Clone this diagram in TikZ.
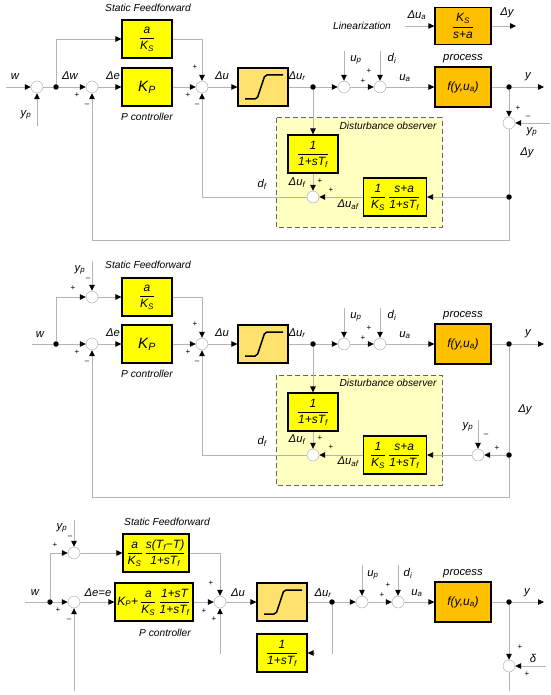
\documentclass[tikz,border=0pt]{standalone}
\usepackage{amsmath}
\usepackage{fontspec}
\setmainfont{Liberation Sans}
\usetikzlibrary{arrows.meta,positioning}
\definecolor{blkyellow}{RGB}{255,255,0}
\definecolor{procorange}{RGB}{255,192,0}
\definecolor{satyellow}{RGB}{255,226,110}
\definecolor{obsfill}{RGB}{255,255,192}
\definecolor{wiregray}{RGB}{180,180,180}
\definecolor{sumgray}{RGB}{165,165,165}
\tikzset{
  >={Triangle[length=6pt,width=5.5pt,color=black]},
  every node/.style={font=\itshape\fontsize{11.3}{13}\selectfont},
  note/.style={font=\itshape\fontsize{10.2}{12}\selectfont},
  wire/.style={draw=wiregray, line width=0.8pt},
  sig/.style={wire, ->},
  sumnode/.style={circle, draw=sumgray, fill=white, minimum size=12pt, inner sep=0pt},
  bullet/.style={circle, fill=black, minimum size=5.5pt, inner sep=0pt},
  blk/.style={draw=black, line width=1.2pt, fill=blkyellow, minimum width=50pt, minimum height=38pt, inner sep=1pt,
    font=\itshape\fontsize{12}{14}\selectfont},
  proc/.style={blk, fill=procorange, minimum width=56pt, minimum height=40pt},
  sat/.style={blk, fill=satyellow},
  sgn/.style={font=\fontsize{8}{9}\selectfont, inner sep=0pt},
  obs/.style={draw=black!60, dash pattern=on 5pt off 3pt, line width=1pt, fill=obsfill},
  big/.style={font=\itshape\fontsize{15}{17}\selectfont},
}
\newcommand{\fr}[2]{$\dfrac{\mbox{#1}}{\mbox{#2}}$}

\begin{document}
\begin{tikzpicture}[x=1pt, y=-1pt]
  \useasboundingbox (0,0) rectangle (550,695);

  % first loop
  \draw[obs] (276,118) rectangle (442,227);
  \node[note, anchor=east] (aobsl) at (440,126) {Disturbance observer};

  \coordinate (aw) at (6,87);
  \node[sumnode] (aS1) at (37,87) {};
  \coordinate (ayp) at (37,126);
  \node[bullet] (aD1) at (56,87) {};
  \node[sumnode] (aS2) at (92,87) {};
  \node[blk] (aFF) at (147,39) {\fr{a}{K\textsubscript{S}}};
  \node[blk, big] (aKP) at (147,87) {K\textsubscript{P}};
  \node[sumnode] (aS3) at (202,87) {};
  \node[sat] (aSat) at (263,87) {};
  \node[bullet] (aD2) at (313,87) {};
  \node[sumnode] (aS4) at (344,87) {};
  \coordinate (aup) at (344,51);
  \node[sumnode] (aS5) at (380,87) {};
  \coordinate (adi) at (380,51);
  \node[proc] (aP) at (463,87) {f(y,u\textsubscript{a})};
  \node[bullet] (aD3) at (509,87) {};
  \coordinate (ay) at (544,87);
  \node[sumnode] (aS6) at (509,123) {};
  \coordinate (aypr) at (550,123);
  \node[bullet] (aD4) at (509,197) {};
  \node[blk, minimum width=63pt] (aObs) at (395,197) {\fr{1}{K\textsubscript{S}}\,\fr{s+a}{1+sT\textsubscript{f}}};
  \node[sumnode] (aS7) at (313,197) {};
  \node[blk] (aF) at (313,154) {\fr{1}{1+sT\textsubscript{f}}};
  \coordinate (aC) at (92,240);
  \node[proc, minimum height=37pt] (aLin) at (463,26) {\fr{K\textsubscript{S}}{s+a}};
  \coordinate (aLi) at (405,26);
  \coordinate (aLo) at (516,26);

  \draw[sig] (aw) -- (aS1);
  \draw[sig] (ayp) -- (aS1);
  \draw[wire] (aS1) -- (aD1);
  \draw[sig] (aD1) -- (aS2);
  \draw[sig] (aD1) |- (aFF);
  \draw[sig] (aS2) -- (aKP);
  \draw[sig] (aKP) -- (aS3);
  \draw[sig] (aFF) -| (aS3);
  \draw[sig] (aS3) -- (aSat);
  \draw[wire] (aSat) -- (aD2);
  \draw[sig] (aD2) -- (aS4);
  \draw[sig] (aup) -- (aS4);
  \draw[sig] (aS4) -- (aS5);
  \draw[sig] (adi) -- (aS5);
  \draw[sig] (aS5) -- (aP);
  \draw[wire] (aP) -- (aD3);
  \draw[sig] (aD3) -- (ay);
  \draw[sig] (aD3) -- (aS6);
  \draw[sig] (aypr) -- (aS6);
  \draw[wire] (aS6) -- (aD4);
  \draw[sig] (aD4) |- (aC) -- (aS2);
  \draw[sig] (aD4) -- (aObs);
  \draw[sig] (aObs) -- (aS7);
  \draw[sig] (aD2) -- (aF);
  \draw[sig] (aF) -- (aS7);
  \draw[sig] (aS7) -| (aS3);
  \draw[sig] (aLi) -- (aLin);
  \draw[sig] (aLin) -- (aLo);

  \node (awl) at (15,77) {w};
  \node (aypl) at (26,115) {y\textsubscript{p}};
  \node (adwl) at (70,76) {Δw};
  \node (adel) at (113,76) {Δe};
  \node[note] (asff) at (148,8) {Static Feedforward};
  \node[note] (apc) at (147,117) {P controller};
  \node (adul) at (222,76) {Δu};
  \node (adurl) at (297,76) {Δu\textsubscript{r}};
  \node (aupl) at (356,60) {u\textsubscript{p}};
  \node (adil) at (392,58) {d\textsubscript{i}};
  \node (aual) at (405,78) {u\textsubscript{a}};
  \node (aprl) at (463,59) {process};
  \node (ayl) at (528,77) {y};
  \node (ayprl) at (532,132) {y\textsubscript{p}};
  \node (adyl) at (527,153) {Δy};
  \node (adfl) at (262,184) {d\textsubscript{f}};
  \node (adufl) at (297,183) {Δu\textsubscript{f}};
  \node (adual) at (348,205) {Δu\textsubscript{af}};
  \node[note] (alinl) at (362,26) {Linearization};
  \node (adual2) at (417,15) {Δu\textsubscript{a}};
  \node (adyl2) at (507,13) {Δy};
  \foreach \p/\s [count=\i] in {(77,95)/+, (87,105)/–, (195,67)/+, (188,95)/+, (197,105)/–,
      (363,81)/+, (369,71)/+, (518,108)/+, (528,117)/–, (320,181)/+, (331,190)/+}
    \node[sgn] (asg\i) at \p {\s};

  % second loop
  \draw[obs] (276,375) rectangle (442,485);
  \node[note, anchor=east] (bobsl) at (440,383) {Disturbance observer};

  \coordinate (bw) at (32,344);
  \node[bullet] (bD1) at (56,344) {};
  \node[sumnode] (bS0) at (92,297) {};
  \coordinate (byp) at (92,261);
  \node[sumnode] (bS2) at (92,344) {};
  \node[blk] (bFF) at (147,297) {\fr{a}{K\textsubscript{S}}};
  \node[blk, big] (bKP) at (147,344) {K\textsubscript{P}};
  \node[sumnode] (bS3) at (202,344) {};
  \node[sat] (bSat) at (263,344) {};
  \node[bullet] (bD2) at (313,344) {};
  \node[sumnode] (bS4) at (344,344) {};
  \coordinate (bup) at (344,308);
  \node[sumnode] (bS5) at (380,344) {};
  \coordinate (bdi) at (380,308);
  \node[proc] (bP) at (463,344) {f(y,u\textsubscript{a})};
  \node[bullet] (bD3) at (509,344) {};
  \coordinate (by) at (544,344);
  \node[bullet] (bD4) at (509,455) {};
  \node[sumnode] (bS6) at (478,455) {};
  \coordinate (byp2) at (478,420);
  \node[blk, minimum width=63pt] (bObs) at (395,455) {\fr{1}{K\textsubscript{S}}\,\fr{s+a}{1+sT\textsubscript{f}}};
  \node[sumnode] (bS7) at (313,455) {};
  \node[blk] (bF) at (313,412) {\fr{1}{1+sT\textsubscript{f}}};
  \coordinate (bC) at (92,497);

  \draw[wire] (bw) -- (bD1);
  \draw[sig] (bD1) -- (bS2);
  \draw[sig] (bD1) |- (bS0);
  \draw[sig] (byp) -- (bS0);
  \draw[sig] (bS0) -- (bFF);
  \draw[sig] (bS2) -- (bKP);
  \draw[sig] (bKP) -- (bS3);
  \draw[sig] (bFF) -| (bS3);
  \draw[sig] (bS3) -- (bSat);
  \draw[wire] (bSat) -- (bD2);
  \draw[sig] (bD2) -- (bS4);
  \draw[sig] (bup) -- (bS4);
  \draw[sig] (bS4) -- (bS5);
  \draw[sig] (bdi) -- (bS5);
  \draw[sig] (bS5) -- (bP);
  \draw[wire] (bP) -- (bD3);
  \draw[sig] (bD3) -- (by);
  \draw[wire] (bD3) -- (bD4);
  \draw[sig] (bD4) |- (bC) -- (bS2);
  \draw[sig] (bD4) -- (bS6);
  \draw[sig] (byp2) -- (bS6);
  \draw[sig] (bS6) -- (bObs);
  \draw[sig] (bObs) -- (bS7);
  \draw[sig] (bD2) -- (bF);
  \draw[sig] (bF) -- (bS7);
  \draw[sig] (bS7) -| (bS3);

  \node (bwl) at (40,335) {w};
  \node (bypl) at (80,270) {y\textsubscript{p}};
  \node[note] (bsff) at (148,265) {Static Feedforward};
  \node (bdel) at (113,333) {Δe};
  \node[note] (bpc) at (147,374) {P controller};
  \node (bdul) at (222,333) {Δu};
  \node (bdurl) at (297,333) {Δu\textsubscript{r}};
  \node (bupl) at (356,317) {u\textsubscript{p}};
  \node (bdil) at (392,315) {d\textsubscript{i}};
  \node (bual) at (405,335) {u\textsubscript{a}};
  \node (bprl) at (463,316) {process};
  \node (byl) at (528,334) {y};
  \node (bdyl) at (525,410) {Δy};
  \node (bypl2) at (468,427) {y\textsubscript{p}};
  \node (bdfl) at (262,441) {d\textsubscript{f}};
  \node (bdufl) at (297,440) {Δu\textsubscript{f}};
  \node (bdual) at (348,462) {Δu\textsubscript{af}};
  \foreach \p/\s [count=\i] in {(88,279)/–, (73,288)/+, (77,352)/+, (87,362)/–, (195,324)/+,
      (188,352)/+, (197,362)/–, (363,338)/+, (369,328)/+, (486,435)/–, (497,448)/+,
      (320,438)/+, (331,447)/+}
    \node[sgn] (bsg\i) at \p {\s};

  % third loop
  \coordinate (cw) at (25,602);
  \node[bullet] (cD1) at (50,602) {};
  \node[sumnode] (cS0) at (74,553) {};
  \coordinate (cyp) at (74,520);
  \node[sumnode] (cS2) at (74,602) {};
  \coordinate (cC) at (74,691);
  \node[blk, minimum width=66pt] (cFF) at (156,553) {\fr{a}{K\textsubscript{S}}\,\fr{s(T\textsubscript{f}−T)}{1+sT\textsubscript{f}}};
  \node[blk, minimum width=78pt] (cKP) at (154,602) {K\textsubscript{P}+\,\fr{a}{K\textsubscript{S}}\,\fr{1+sT}{1+sT\textsubscript{f}}};
  \node[sumnode] (cS3) at (220,602) {};
  \coordinate (cC2) at (220,654);
  \node[sat] (cSat) at (282,602) {};
  \node[blk] (cF) at (282,653) {\fr{1}{1+sT\textsubscript{f}}};
  \coordinate (cFi) at (315,653);
  \node[bullet] (cD2) at (332,602) {};
  \coordinate (cC3) at (332,654);
  \node[sumnode] (cS4) at (362,602) {};
  \coordinate (cup) at (362,565);
  \node[sumnode] (cS5) at (398,602) {};
  \coordinate (cdi) at (398,565);
  \node[proc] (cP) at (463,602) {f(y,u\textsubscript{a})};
  \node[bullet] (cD3) at (509,602) {};
  \coordinate (cy) at (544,602);
  \node[sumnode] (cS6) at (509,666) {};
  \coordinate (cdl) at (546,666);
  \coordinate (cC4) at (509,691);

  \draw[wire] (cw) -- (cD1);
  \draw[sig] (cD1) -- (cS2);
  \draw[sig] (cD1) |- (cS0);
  \draw[sig] (cyp) -- (cS0);
  \draw[sig] (cS0) -- (cFF);
  \draw[sig] (cC) -- (cS2);
  \draw[sig] (cS2) -- (cKP);
  \draw[sig] (cKP) -- (cS3);
  \draw[sig] (cFF) -| (cS3);
  \draw[sig] (cC2) -- (cS3);
  \draw[sig] (cS3) -- (cSat);
  \draw[wire] (cSat) -- (cD2);
  \draw[wire] (cD2) -- (cC3);
  \draw[sig] (cFi) -- (cF);
  \draw[sig] (cD2) -- (cS4);
  \draw[sig] (cup) -- (cS4);
  \draw[sig] (cS4) -- (cS5);
  \draw[sig] (cdi) -- (cS5);
  \draw[sig] (cS5) -- (cP);
  \draw[wire] (cP) -- (cD3);
  \draw[sig] (cD3) -- (cy);
  \draw[sig] (cD3) -- (cS6);
  \draw[sig] (cdl) -- (cS6);
  \draw[wire] (cS6) -- (cC4);

  \node (cwl) at (35,593) {w};
  \node (cypl) at (62,528) {y\textsubscript{p}};
  \node[note] (csff) at (167,522) {Static Feedforward};
  \node (cdel) at (98,593) {Δe=e};
  \node[note] (cpc) at (165,633) {P controller};
  \node (cdul) at (238,593) {Δu};
  \node (cdurl) at (323,593) {Δu\textsubscript{r}};
  \node (cupl) at (373,575) {u\textsubscript{p}};
  \node (cdil) at (408,573) {d\textsubscript{i}};
  \node (cual) at (417,593) {u\textsubscript{a}};
  \node (cprl) at (463,574) {process};
  \node (cyl) at (527,593) {y};
  \node (cdll) at (533,658) {δ};
  \foreach \p/\s [count=\i] in {(70,537)/–, (55,545)/+, (58,610)/+, (69,620)/–, (211,583)/+,
      (204,611)/+, (214,619)/+, (388,585)/+, (382,595)/+, (520,647)/+, (527,674)/+}
    \node[sgn] (csg\i) at \p {\s};

  \foreach \s in {aSat, bSat, cSat}
    \draw[line width=1.5pt, rounded corners=2pt]
      ([shift={(-18,12)}]\s.center) -- ++(12,0) -- ++(8,-24) -- ++(18,0);
\end{tikzpicture}
\end{document}
